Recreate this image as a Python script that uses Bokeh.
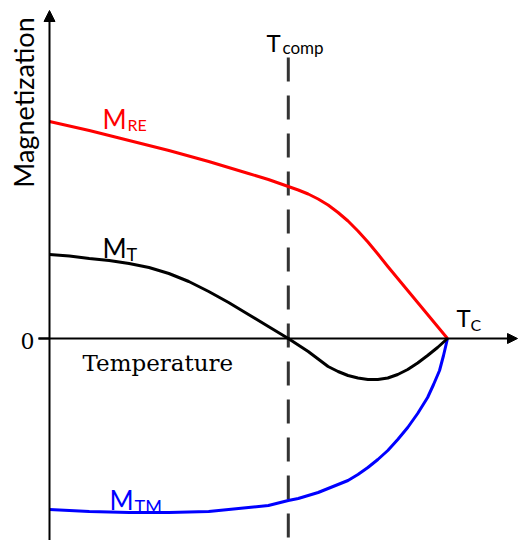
import math
from bokeh.plotting import figure
from bokeh.models import Arrow, NormalHead
from bokeh.core.properties import value
from bokeh.embed import file_html
from bokeh.resources import INLINE

# ---- data (temperature normalised to Tc = 1, magnetization in arbitrary units) ----
T_RE = [0.0, 0.1, 0.2, 0.3, 0.4, 0.45, 0.5, 0.55, 0.6, 0.625, 0.65, 0.675, 0.7, 0.725, 0.75,
        0.775, 0.8, 0.825, 0.85, 0.875, 0.9, 0.925, 0.95, 0.975, 1.0]
M_RE = [2.17, 2.08, 1.98, 1.88, 1.77, 1.71, 1.65, 1.59, 1.52, 1.485, 1.445, 1.395, 1.335, 1.26, 1.175,
        1.075, 0.965, 0.845, 0.72, 0.60, 0.48, 0.36, 0.24, 0.12, 0.0]

T_T = [0.0, 0.05, 0.1, 0.15, 0.2, 0.25, 0.3, 0.35, 0.4, 0.45, 0.5, 0.55, 0.6, 0.625, 0.65, 0.675,
       0.7, 0.725, 0.75, 0.775, 0.8, 0.825, 0.85, 0.875, 0.9, 0.925, 0.95, 0.975, 1.0]
M_T = [0.84, 0.825, 0.80, 0.78, 0.75, 0.71, 0.65, 0.57, 0.47, 0.36, 0.24, 0.12, 0.0, -0.065, -0.13, -0.205,
       -0.28, -0.33, -0.37, -0.395, -0.41, -0.41, -0.395, -0.36, -0.31, -0.245, -0.17, -0.09, 0.0]

T_TM = [0.0, 0.1, 0.2, 0.3, 0.4, 0.5, 0.55, 0.6, 0.625, 0.65, 0.675, 0.7, 0.725, 0.75, 0.775, 0.8,
        0.825, 0.85, 0.875, 0.9, 0.925, 0.95, 0.965, 0.98, 0.99, 1.0]
M_TM = [-1.71, -1.73, -1.74, -1.74, -1.73, -1.69, -1.67, -1.62, -1.60, -1.57, -1.54, -1.50, -1.46, -1.42,
        -1.36, -1.29, -1.21, -1.12, -1.01, -0.89, -0.75, -0.59, -0.46, -0.32, -0.17, 0.0]

T_COMP = 0.6
T_C = 1.0
Y_TICK = "0"

# ---- layout helpers (page pixel -> data) ----
def tx(px):
    return (px - 49) / 398.0

def my(py):
    return (338 - py) / 100.0

W, H = 518, 540
p = figure(width=W, height=H, output_backend="svg", toolbar_location=None,
           x_range=(tx(0), tx(W)), y_range=(my(H), my(0)),
           min_border=0, outline_line_color=None)
p.axis.visible = False
p.grid.visible = False
p.background_fill_color = "white"

# axes with arrow heads
p.add_layout(Arrow(end=NormalHead(size=11, fill_color="black", line_color="black"),
                   x_start=0, y_start=my(545), x_end=0, y_end=my(10),
                   line_width=2, line_color="black"))
p.add_layout(Arrow(end=NormalHead(size=10, fill_color="black", line_color="black"),
                   x_start=tx(38), y_start=0, x_end=tx(517), y_end=0,
                   line_width=2, line_color="black"))

# compensation temperature dashed line
p.segment(x0=[T_COMP], y0=[my(57)], x1=[T_COMP], y1=[my(545)],
          line_color="#333333", line_width=3, line_dash="24 14")

# curves
p.line(T_RE, M_RE, line_color="#ff0000", line_width=3, line_join="round")
p.line(T_TM, M_TM, line_color="#0000ff", line_width=3, line_join="round")
p.line(T_T, M_T, line_color="black", line_width=3, line_join="round")

lab_font = value("Lato")
ser_font = value("DejaVu Serif")

def txt(x, y, s, size, color="black", font=lab_font, align="left", baseline="alphabetic", angle=0):
    p.text(x=[x], y=[y], text=[s], text_font=font, text_font_size=value(f"{size}px"),
           text_color=color, text_align=align, text_baseline=baseline, angle=angle)

# labels
txt(tx(102), my(118), "M", 26, "#ff0000")
txt(tx(127), my(124), "RE", 16, "#ff0000")
txt(tx(102), my(247), "M", 26)
txt(tx(126), my(253), "T", 18)
txt(tx(109), my(499), "M", 26, "#0000ff")
txt(tx(134), my(505), "TM", 18, "#0000ff")
txt(tx(266), my(42), "T", 24)
txt(tx(282), my(47), "comp", 17)
txt(tx(456), my(317), "T", 24)
txt(tx(470), my(324), "C", 16)

txt(tx(23), my(102), "Magnetization", 27, align="center", baseline="middle", angle=math.pi / 2)
txt(tx(82), my(362), "Temperature", 23, font=ser_font)
txt(tx(34), my(340), Y_TICK, 22, font=ser_font, align="right", baseline="middle")

# tick at zero
p.segment(x0=[tx(38)], y0=[0], x1=[0], y1=[0], line_color="black", line_width=2)

open("out.html", "w").write(file_html(p, INLINE))
